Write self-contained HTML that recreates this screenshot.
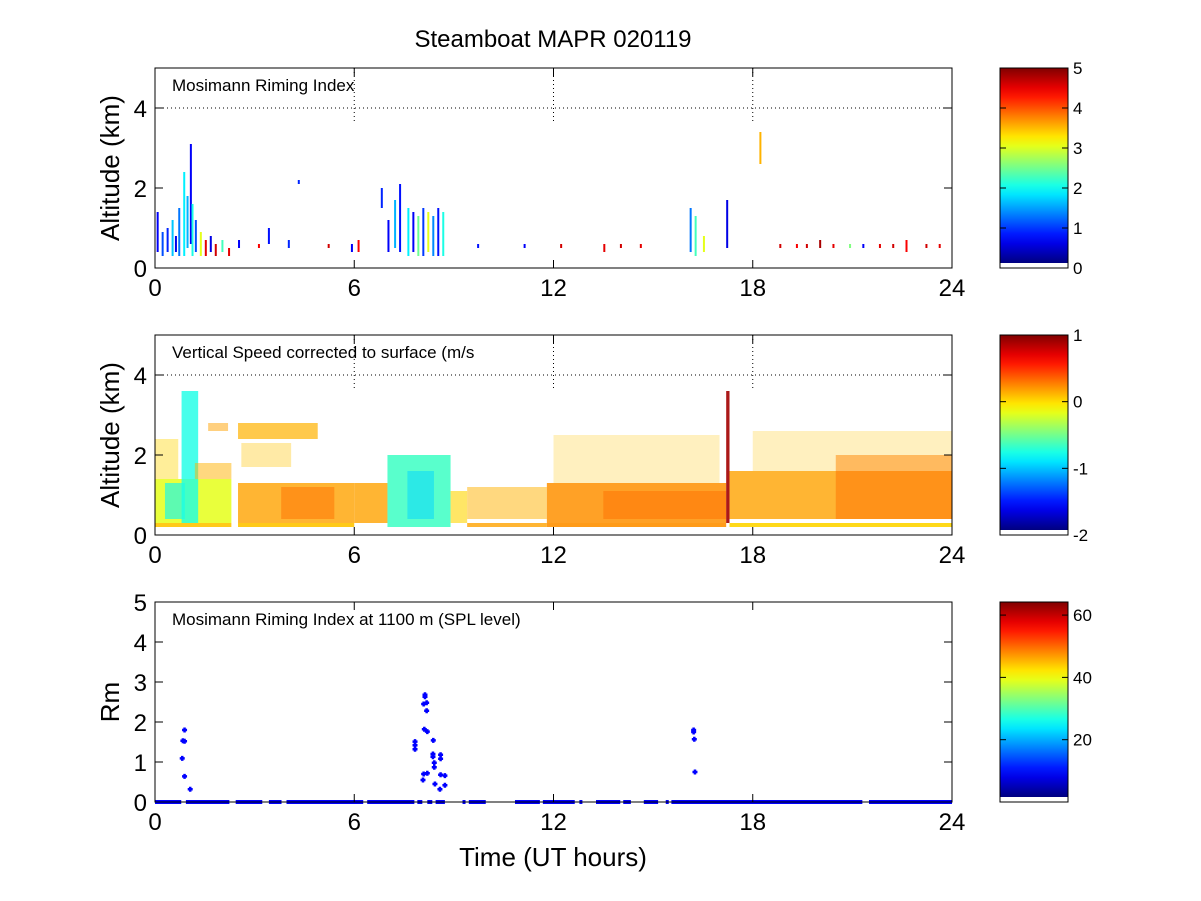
<!DOCTYPE html>
<html><head><meta charset="utf-8">
<style>
html,body{margin:0;padding:0;background:#fff;}
svg{display:block;font-family:"Liberation Sans",sans-serif;}
</style></head>
<body>
<svg id="fig" width="1201" height="901" viewBox="0 0 1201 901" xmlns="http://www.w3.org/2000/svg">
<rect width="1201" height="901" fill="#fff"/>
<text x="553" y="47" font-size="24" text-anchor="middle">Steamboat MAPR 020119</text>
<g id="p1"></g>
<g id="p2"></g>
<g id="p3"></g>
<text x="553" y="866" font-size="26" text-anchor="middle">Time (UT hours)</text>
</svg>
<script>
// ---- data ----
const xTicks = [0, 6, 12, 18, 24];
const altTicks = [0, 2, 4];
const rmTicks = [0, 1, 2, 3, 4, 5];
const cb1Ticks = [0, 1, 2, 3, 4, 5];
const cb2Ticks = [-2, -1, 0, 1];
const cb3Ticks = [20, 40, 60];
// panel 1 sticks: [hour, z0, z1, value]
const rimeSticks = [
 [0.05,0.4,1.4,0.6],[0.2,0.3,0.9,1.0],[0.35,0.4,1.0,0.8],[0.5,0.3,1.2,1.6],[0.6,0.4,0.8,0.5],
 [0.7,0.3,1.5,1.2],[0.85,0.3,2.4,1.8],[0.95,0.5,1.8,1.5],[1.05,0.6,3.1,0.6],[1.1,0.3,1.6,2.0],
 [1.2,0.4,1.2,1.0],[1.35,0.3,0.9,3.0],[1.5,0.3,0.7,4.5],[1.65,0.4,0.8,0.5],[1.8,0.3,0.6,4.6],
 [2.0,0.4,0.7,2.2],[2.2,0.3,0.5,4.5],[2.5,0.5,0.7,0.6],[3.1,0.5,0.6,4.4],[3.4,0.6,1.0,0.7],
 [4.0,0.5,0.7,0.8],[4.3,2.1,2.2,0.8],[5.2,0.5,0.6,4.6],[5.9,0.4,0.6,0.6],[6.1,0.4,0.7,4.4],
 [6.8,1.5,2.0,0.8],[7.0,0.4,1.2,0.6],[7.2,0.5,1.7,1.5],[7.35,0.4,2.1,0.7],[7.6,0.3,1.5,1.8],
 [7.75,0.4,1.4,0.6],[7.9,0.3,1.3,2.4],[8.05,0.3,1.5,0.9],[8.2,0.4,1.4,3.0],[8.35,0.3,1.3,1.3],
 [8.5,0.3,1.5,0.7],[8.65,0.3,1.4,2.0],[9.7,0.5,0.6,0.7],[11.1,0.5,0.6,0.6],[12.2,0.5,0.6,4.6],
 [13.5,0.4,0.6,4.5],[14.0,0.5,0.6,4.6],[14.6,0.5,0.6,4.5],[16.1,0.4,1.5,1.2],[16.25,0.3,1.3,2.2],
 [16.5,0.4,0.8,3.0],[17.2,0.5,1.7,0.5],[18.2,2.6,3.4,3.5],[18.8,0.5,0.6,4.6],[19.3,0.5,0.6,4.4],
 [19.6,0.5,0.6,4.6],[20.0,0.5,0.7,4.8],[20.4,0.5,0.6,4.5],[20.9,0.5,0.6,2.5],[21.3,0.5,0.6,0.6],
 [21.8,0.5,0.6,4.5],[22.2,0.5,0.6,4.6],[22.6,0.4,0.7,4.4],[23.2,0.5,0.6,4.6],[23.6,0.5,0.6,4.5]
];
// panel 2 blocks: [h0, h1, z0, z1, value]
const vsBlocks = [
 [0.0,2.3,0.2,0.3,0.05],[0.0,2.3,0.3,1.4,-0.2],[0.3,0.9,0.4,1.3,-0.9],[0.8,1.3,0.3,3.6,-0.8],
 [0.0,0.7,1.4,2.4,0.0],[1.2,2.3,1.4,1.8,0.1],[1.6,2.2,2.6,2.8,0.15],
 [2.5,6.0,0.2,0.3,0.05],[2.5,6.0,0.3,1.3,0.15],[3.8,5.4,0.4,1.2,0.3],[2.5,4.9,2.4,2.8,0.1],[2.6,4.1,1.7,2.3,0.05],
 [6.0,7.0,0.3,1.3,0.15],[7.0,8.9,0.2,2.0,-0.7],[7.6,8.4,0.4,1.6,-1.0],[8.9,9.4,0.3,1.1,0.0],
 [9.4,11.8,0.2,0.3,0.15],[9.4,11.8,0.4,1.2,0.1],[11.8,17.2,0.2,0.3,0.2],[11.8,17.2,0.3,1.3,0.2],
 [13.5,17.2,0.4,1.1,0.3],[12.0,17.0,1.3,2.5,0.05],[17.2,17.3,0.3,3.6,0.9],
 [17.3,24.0,0.2,0.3,0.0],[17.3,24.0,0.4,1.6,0.15],[20.5,24.0,0.4,2.0,0.3],[18.0,24.0,1.6,2.6,0.05]
];
// fraction of each block actually filled with echoes
const vsCoverage = [0.9,0.85,0.6,0.8,0.4,0.5,0.5,0.9,0.8,0.5,0.7,0.35,0.8,0.85,0.5,0.6,0.8,0.5,0.9,0.85,0.5,0.25,0.9,0.9,0.8,0.5,0.25];
// panel 3 points: hours, values
const rmHours = [0.82,0.84,0.89,0.89,0.89,1.06,7.83,7.83,7.83,8.13,8.13,8.09,8.18,8.18,8.11,8.2,8.38,8.37,8.37,8.41,8.41,8.09,8.07,8.2,8.43,8.58,8.6,8.6,8.6,8.73,8.73,16.22,16.22,16.24,16.26];
const rmValues = [1.09,1.53,1.8,1.52,0.64,0.32,1.51,1.42,1.32,2.68,2.63,2.45,2.48,2.28,1.82,1.76,1.54,1.2,1.13,0.98,0.87,0.7,0.55,0.72,0.45,0.32,1.18,1.08,0.68,0.66,0.42,1.8,1.75,1.57,0.75];
// zero-value segments [h0,h1]
const zeroSegs = [[0.0,0.79],[0.93,2.24],[2.43,3.23],[3.43,3.81],[3.96,6.27],[6.39,7.81],[7.9,8.05],[8.2,8.35],[8.45,8.73],[9.26,9.28],[9.45,9.96],[10.84,11.59],[11.68,12.64],[12.78,12.8],[13.28,14.01],[14.1,14.33],[14.72,15.15],[15.38,15.4],[15.55,21.3],[21.5,24.0]];

// ---- helpers ----
const NS = "http://www.w3.org/2000/svg";
function mk(tag, attrs, parent){const e=document.createElementNS(NS,tag);for(const k in attrs)e.setAttribute(k,attrs[k]);parent.appendChild(e);return e;}
function jet(t){t=Math.max(0,Math.min(1,t));
 const r=Math.max(0,Math.min(1,1.5-Math.abs(4*t-3)));
 const g=Math.max(0,Math.min(1,1.5-Math.abs(4*t-2)));
 const b=Math.max(0,Math.min(1,1.5-Math.abs(4*t-1)));
 return `rgb(${Math.round(r*255)},${Math.round(g*255)},${Math.round(b*255)})`;}
const X0=155, X1=952;
function xs(h){return X0+(X1-X0)*h/24;}
const panels=[{top:68,bot:268},{top:335,bot:535},{top:602,bot:802}];
function ys(p,z){return p.bot-(p.bot-p.top)*z/5;}

function drawAxes(g,p,yt,ylabel,label,grid){
 if(grid){
  const gl=mk('line',{x1:X0,x2:X1,y1:ys(p,4),y2:ys(p,4),stroke:'#000','stroke-width':1,'stroke-dasharray':'1,3'},g);
  
  [6,12,18].forEach(h=>{const v=mk('line',{x1:xs(h),x2:xs(h),y1:p.top,y2:ys(p,3.6),stroke:'#000','stroke-width':1,'stroke-dasharray':'1,3'},g);
   });
 }
 const box=mk('rect',{x:X0,y:p.top,width:X1-X0,height:p.bot-p.top,fill:'none',stroke:'#000','stroke-width':1},g);
 
 xTicks.forEach(h=>{const x=xs(h);
  mk('line',{x1:x,x2:x,y1:p.bot,y2:p.bot-8,stroke:'#000'},g);
  mk('line',{x1:x,x2:x,y1:p.top,y2:p.top+8,stroke:'#000'},g);
  const t=mk('text',{x:x,y:p.bot+28,'font-size':24,'text-anchor':'middle'},g);t.textContent=h;
  });
 yt.forEach(z=>{const y=ys(p,z);
  mk('line',{x1:X0,x2:X0+8,y1:y,y2:y,stroke:'#000'},g);
  mk('line',{x1:X1,x2:X1-8,y1:y,y2:y,stroke:'#000'},g);
  const t=mk('text',{x:147,y:y+9,'font-size':24,'text-anchor':'end'},g);t.textContent=z;
  });
 const yl=mk('text',{x:0,y:0,'font-size':26,'text-anchor':'middle',transform:`translate(119,${(p.top+p.bot)/2}) rotate(-90)`},g);
 yl.textContent=ylabel;
 const lt=mk('text',{x:172,y:p.top+23,'font-size':17},g);lt.textContent=label;
 
}
function colorbar(g,p,ticks,vmin,vmax){
 const id='grad'+p.top;
 const defs=mk('defs',{},g);
 const lg=mk('linearGradient',{id:id,x1:0,y1:1,x2:0,y2:0},defs);
 for(let i=0;i<=20;i++)mk('stop',{offset:i/20,'stop-color':jet(i/20)},lg);
 const cb=mk('rect',{x:1000,y:p.top,width:68,height:p.bot-p.top-5,fill:`url(#${id})`},g);
 
 const bx=mk('rect',{x:1000,y:p.top,width:68,height:p.bot-p.top,fill:'none',stroke:'#000'},g);
 
 ticks.forEach(v=>{const y=p.bot-(p.bot-p.top)*(v-vmin)/(vmax-vmin);
  mk('line',{x1:1062,x2:1068,y1:y,y2:y,stroke:'#000'},g);
  mk('line',{x1:1000,x2:1006,y1:y,y2:y,stroke:'#000'},g);
  const t=mk('text',{x:1073,y:y+6,'font-size':17},g);t.textContent=v;
  });
}
// panel 1
(function(){const g=document.getElementById('p1'),p=panels[0];
 rimeSticks.forEach(s=>{const r=mk('rect',{x:xs(s[0]),y:ys(p,s[2]),width:2,height:ys(p,s[1])-ys(p,s[2]),fill:jet(s[3]/5)},g);
  });
 drawAxes(g,p,altTicks,'Altitude (km)','Mosimann Riming Index',true);
 colorbar(g,p,cb1Ticks,0,5);})();
// panel 2
(function(){const g=document.getElementById('p2'),p=panels[1];
 vsBlocks.forEach((b,i)=>{const r=mk('rect',{x:xs(b[0]),y:ys(p,b[3]),width:xs(b[1])-xs(b[0]),height:ys(p,b[2])-ys(p,b[3]),fill:jet((b[4]+2)/3),opacity:vsCoverage[i]},g);
  });
 drawAxes(g,p,altTicks,'Altitude (km)','Vertical Speed corrected to surface (m/s',true);
 colorbar(g,p,cb2Ticks,-2,1);})();
// panel 3
(function(){const g=document.getElementById('p3'),p=panels[2];
 zeroSegs.forEach(s=>{const r=mk('rect',{x:xs(s[0]),y:ys(p,0)-2,width:Math.max(3,xs(s[1])-xs(s[0])),height:4,fill:'#0000ff'},g);
  });
 rmHours.forEach((h,i)=>{const c=mk('path',{d:`M${xs(h)-2.5},${ys(p,rmValues[i])}h5M${xs(h)},${ys(p,rmValues[i])-2.5}v5`,stroke:'#0000ff','stroke-width':2.5},g);
  });
 drawAxes(g,p,rmTicks,'Rm','Mosimann Riming Index at 1100 m (SPL level)',false);
 colorbar(g,p,cb3Ticks,0,64.2);})();
</script>
</body></html>
